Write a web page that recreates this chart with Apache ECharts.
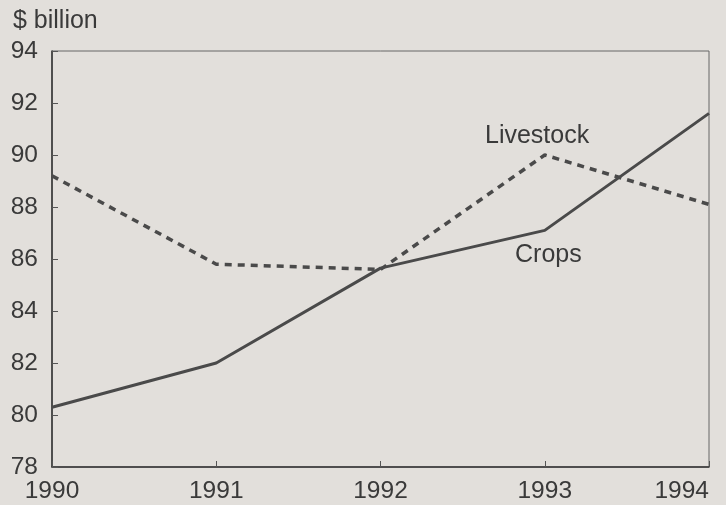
<!DOCTYPE html>
<html>
<head>
<meta charset="utf-8">
<script src="https://cdn.jsdelivr.net/npm/echarts@6/dist/echarts.min.js"></script>
<style>
  html, body { margin: 0; padding: 0; background: #e2dfdb; }
  #chart { width: 726px; height: 505px; }
</style>
</head>
<body>
<div id="chart"></div>
<script>
const years = ['1990', '1991', '1992', '1993', '1994'];
const crops = [80.3, 82.0, 85.65, 87.1, 91.6];
const livestock = [89.2, 85.8, 85.6, 90.0, 88.1];
const yTicks = [78, 80, 82, 84, 86, 88, 90, 92, 94];

const chart = echarts.init(document.getElementById('chart'));
const font = 'Liberation Sans, Arial, sans-serif';
const ink = '#4a4a4a';
const textInk = '#3a3a3a';

chart.setOption({
    backgroundColor: '#e2dfdb',
    animation: false,
    grid: {
        left: 52, right: 17, top: 51, bottom: 38,
        show: true,
        borderColor: '#666',
        borderWidth: 1
    },
    xAxis: {
        type: 'category',
        data: years,
        boundaryGap: false,
        axisLine: { lineStyle: { color: '#333', width: 1.5 } },
        axisTick: { inside: true, length: 6, lineStyle: { color: '#555' } },
        axisLabel: {
            color: textInk, fontSize: 24.5, fontFamily: font, margin: 12,
            alignMaxLabel: 'right'
        },
        splitLine: { show: false }
    },
    yAxis: {
        type: 'value',
        min: yTicks[0],
        max: yTicks[yTicks.length - 1],
        interval: 2,
        axisLine: { show: true, lineStyle: { color: '#333', width: 1.5 } },
        axisTick: { show: true, inside: true, length: 6, lineStyle: { color: '#555' } },
        axisLabel: { color: textInk, fontSize: 24.5, fontFamily: font, margin: 14 },
        splitLine: { show: false }
    },
    graphic: [
        { type: 'text', left: 13, top: 9,
          style: { text: '$ billion', fontSize: 25, fontFamily: font, fill: textInk } },
        { type: 'text', left: 485, top: 124,
          style: { text: 'Livestock', fontSize: 25, fontFamily: font, fill: textInk } },
        { type: 'text', left: 515, top: 243,
          style: { text: 'Crops', fontSize: 25, fontFamily: font, fill: textInk } }
    ],
    series: [
        {
            name: 'Crops',
            type: 'line',
            data: crops,
            symbol: 'none',
            lineStyle: { color: ink, width: 3 }
        },
        {
            name: 'Livestock',
            type: 'line',
            data: livestock,
            symbol: 'none',
            lineStyle: { color: ink, width: 3.5, type: [7, 6] }
        }
    ]
});
</script>
</body>
</html>
